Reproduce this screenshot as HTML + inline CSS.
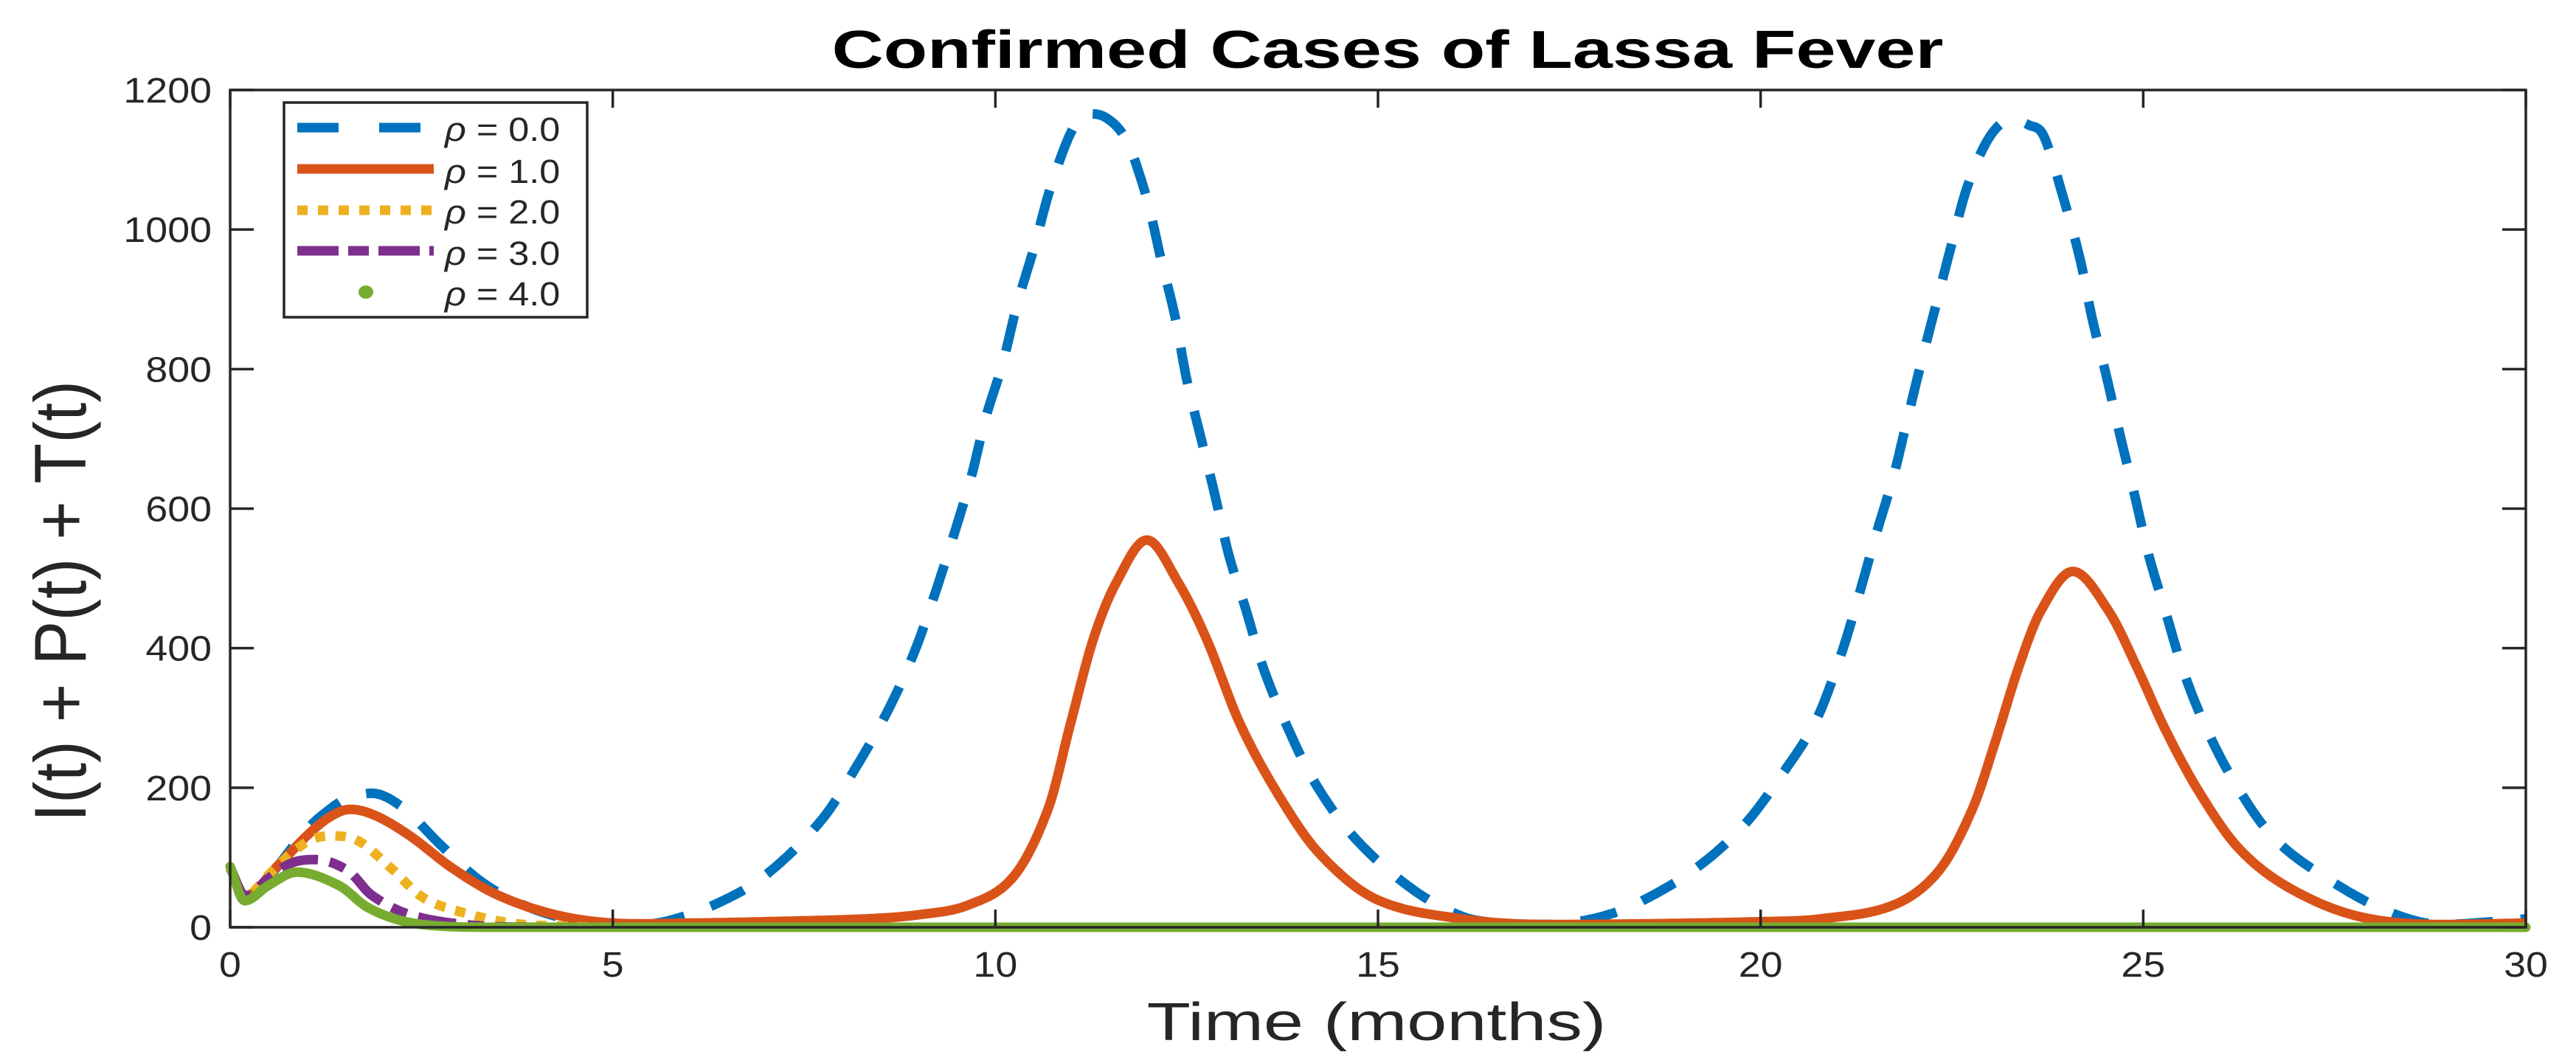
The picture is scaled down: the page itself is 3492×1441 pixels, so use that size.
<!DOCTYPE html>
<html>
<head>
<meta charset="utf-8">
<style>
  html,body{margin:0;padding:0;background:#fff;}
  svg{display:block;}
  text{font-family:"Liberation Sans",Arial,sans-serif;fill:#262626;}
</style>
</head>
<body>
<svg id="chart" width="3492" height="1441" viewBox="0 0 3492 1441" xmlns="http://www.w3.org/2000/svg">
  <rect x="0" y="0" width="3492" height="1441" fill="#fff"/>
  <g id="series"></g>
  <g id="axes"></g>
  <g id="legend"></g>
  <g id="labels"></g>
</svg>
<script>
const xTicks = [0, 5, 10, 15, 20, 25, 30];
const yTicks = [0, 200, 400, 600, 800, 1000, 1200];
const legendLabels = ["0.0", "1.0", "2.0", "3.0", "4.0"];

const tBlue = [0,0.2,0.5,1,1.3,1.5,1.85,2.25,2.75,3.25,3.75,4.25,4.75,5.25,5.75,6.4,7,7.73,8.21,8.62,8.95,9.21,9.47,9.69,9.87,10.1,10.28,10.5,10.72,11.0,11.2,11.45,11.72,11.98,12.17,12.35,12.5,12.68,12.87,13.05,13.28,13.5,13.8,14.16,14.68,15.42,16.09,16.6,17.2,17.8,18.34,19.11,19.78,20.33,20.74,21.07,21.29,21.52,21.74,21.92,22.1,22.29,22.48,22.7,23.0,23.29,23.5,23.7,23.96,24.18,24.33,24.51,24.7,24.88,25.07,25.29,25.51,25.8,26.18,26.69,27.36,28.17,28.9,29.58,30];
const vBlue = [85,45,72,140,169,183,192,172,118,68,36,16,6,3,10,36,75,154,235,316,397,478,567,648,729,810,891,972,1060,1142,1166,1160,1126,1044,955,874,785,704,619,534,453,372,291,210,130,57,16,6,4,12,32,81,146,227,300,397,478,567,648,729,810,891,972,1061,1134,1158,1150,1134,1044,955,874,794,704,623,534,453,372,291,210,130,73,24,4,8,12];

const tOrange = [0,0.2,0.62,1.0,1.3,1.57,1.9,2.35,2.9,3.5,4.25,5,6,7,8.3,9.0,9.65,10.24,10.69,10.98,11.28,11.58,11.98,12.39,12.76,13.2,13.72,14.24,14.98,16.1,17.2,18.5,20.0,20.78,21.74,22.33,22.77,23.07,23.37,23.66,24.08,24.55,24.92,25.29,25.73,26.25,26.9,27.8,28.9,30];
const vOrange = [85,45,88,131,158,169,160,131,85,46,18,6,6,8,12,18,32,73,170,291,413,494,555,494,413,291,186,105,40,12,4,5,8,12,32,81,170,267,372,453,510,453,372,283,194,113,57,16,4,6];

const tYellow = [0,0.2,0.5,0.8,1.05,1.3,1.67,2.1,2.53,3.15,3.75,4.5,5,30];
const vYellow = [85,45,75,106,125,131,124,85,42,18,5,1,0,0];

const tPurple = [0,0.2,0.5,0.8,1.11,1.54,1.85,2.35,3.15,4,5,30];
const vPurple = [85,45,70,92,97,81,46,18,3,0,0,0];

const tGreen = [0,0.19,0.5,0.87,1.42,1.79,2.22,2.7,3.5,30];
const vGreen = [87,38,60,79,60,29,10,2,0,0];

const X0 = 312, X1 = 3424, Y0 = 1257, Y1 = 122;
function xs(t){ return X0 + (t - 0) / 30 * (X1 - X0); }
function ys(v){ return Y0 - v / 1200 * (Y0 - Y1); }

const NS = "http://www.w3.org/2000/svg";
function mk(tag, attrs, parent){
  const e = document.createElementNS(NS, tag);
  for (const k in attrs) e.setAttribute(k, attrs[k]);
  parent.appendChild(e);
  return e;
}

// smooth interpolation (Catmull-Rom slopes, clamped to avoid overshoot)
function smoothPath(ts, vs){
  const n = ts.length, m = new Array(n), d = [];
  for (let i=0;i<n-1;i++) d.push((vs[i+1]-vs[i])/(ts[i+1]-ts[i]));
  m[0]=d[0]; m[n-1]=d[n-2];
  for (let i=1;i<n-1;i++){
    let s = (vs[i+1]-vs[i-1])/(ts[i+1]-ts[i-1]);
    if (d[i-1]*d[i] <= 0) { s = (d[i-1]*d[i] < 0) ? 0 : s; }
    const lim = 3*Math.min(Math.abs(d[i-1]), Math.abs(d[i]));
    if (d[i-1]*d[i] > 0 && Math.abs(s) > lim) s = Math.sign(s)*lim;
    m[i]=s;
  }
  const pts=[];
  for (let i=0;i<n-1;i++){
    const h=ts[i+1]-ts[i], steps=Math.max(6,Math.ceil(h*60));
    for (let s=0;s<steps;s++){
      const u=s/steps, h00=2*u*u*u-3*u*u+1, h10=u*u*u-2*u*u+u, h01=-2*u*u*u+3*u*u, h11=u*u*u-u*u;
      const v=h00*vs[i]+h10*h*m[i]+h01*vs[i+1]+h11*h*m[i+1];
      pts.push([xs(ts[i]+u*h), ys(Math.max(0,v))]);
    }
  }
  pts.push([xs(ts[n-1]), ys(vs[n-1])]);
  return "M" + pts.map(p=>p[0].toFixed(1)+","+p[1].toFixed(1)).join("L");
}

const series = document.getElementById("series");
const styles = [
  {t:tBlue, v:vBlue, c:"#0072BD", dash:"50 38", cap:"butt", name:"series-rho-0"},
  {t:tOrange, v:vOrange, c:"#D95319", dash:"", cap:"butt", name:"series-rho-1"},
  {t:tYellow, v:vYellow, c:"#EDB120", dash:"14 14", cap:"butt", name:"series-rho-2"},
  {t:tPurple, v:vPurple, c:"#7E2F8E", dash:"52 16 22 16", cap:"butt", name:"series-rho-3"},
  {t:tGreen, v:vGreen, c:"#77AC30", dash:"", cap:"round", name:"series-rho-4"}
];
styles.forEach(s=>{
  const p = mk("path", {d: smoothPath(s.t, s.v), fill:"none", stroke:s.c, "stroke-width":13, "stroke-linecap":s.cap, "stroke-linejoin":"round"}, series);
  if (s.dash) p.setAttribute("stroke-dasharray", s.dash);
  
  
});

// axes
const axes = document.getElementById("axes");
const box = mk("rect", {x:X0, y:Y1, width:X1-X0, height:Y0-Y1, fill:"none", stroke:"#262626", "stroke-width":3.5}, axes);


function txt(parent, str, x, y, size, anchor, sx, extra){
  const t = mk("text", {transform:`translate(${x},${y}) scale(${sx},1)`, "font-size":size, "text-anchor":anchor}, parent);
  if (extra) for (const k in extra) t.setAttribute(k, extra[k]);
  t.textContent = str;
  return t;
}
xTicks.forEach(v=>{
  const x = xs(v);
  const a = mk("line", {x1:x, y1:Y0, x2:x, y2:Y0-24, stroke:"#262626", "stroke-width":3.5}, axes);
  
  
  const b = mk("line", {x1:x, y1:Y1, x2:x, y2:Y1+24, stroke:"#262626", "stroke-width":3.5}, axes);
  
  
  const l = txt(axes, String(v), x, 1324, 48, "middle", 1.12);
  
  
});
yTicks.forEach(v=>{
  const y = ys(v);
  const a = mk("line", {x1:X0, y1:y, x2:X0+32, y2:y, stroke:"#262626", "stroke-width":3.5}, axes);
  
  
  const b = mk("line", {x1:X1, y1:y, x2:X1-32, y2:y, stroke:"#262626", "stroke-width":3.5}, axes);
  
  
  const l = txt(axes, String(v), 287, y+17, 48, "end", 1.12);
  
  
});

// labels
const labels = document.getElementById("labels");
const title = txt(labels, "Confirmed Cases of Lassa Fever", 1881, 92, 72, "middle", 1.35, {"font-weight":"bold"});
title.style.fill = "#000";


const xl = txt(labels, "Time (months)", 1866, 1410, 72, "middle", 1.35);


const yl = mk("text", {transform:`translate(116,815) scale(1.1,1) rotate(-90)`, "font-size":90, "text-anchor":"middle"}, labels);
yl.textContent = "I(t) + P(t) + T(t)";



// legend
const legend = document.getElementById("legend");
const lb = mk("rect", {x:385, y:139, width:411, height:291, fill:"#fff", stroke:"#262626", "stroke-width":3.5}, legend);


const rowY = [173, 229, 285, 340, 396];
const textY = [191, 248, 303, 359, 414];
styles.forEach((s,i)=>{
  if (i < 4){
    const l = mk("line", {x1:403, y1:rowY[i], x2:588, y2:rowY[i], stroke:s.c, "stroke-width":13}, legend);
    if (s.dash) l.setAttribute("stroke-dasharray", i===0 ? "56 55" : (i===3 ? "56 13 28 13" : s.dash));
    
    
  } else {
    const c = mk("ellipse", {cx:496, cy:rowY[i], rx:10, ry:9, fill:s.c}, legend);
    
    
  }
  const t = mk("text", {transform:`translate(603,${textY[i]}) scale(1.12,1)`, "font-size":45}, legend);
  const rho = mk("tspan", {"font-style":"italic"}, t);
  rho.textContent = "ρ";
  const rest = mk("tspan", {}, t);
  rest.textContent = " = " + legendLabels[i];
  
  
});
</script>
</body>
</html>
